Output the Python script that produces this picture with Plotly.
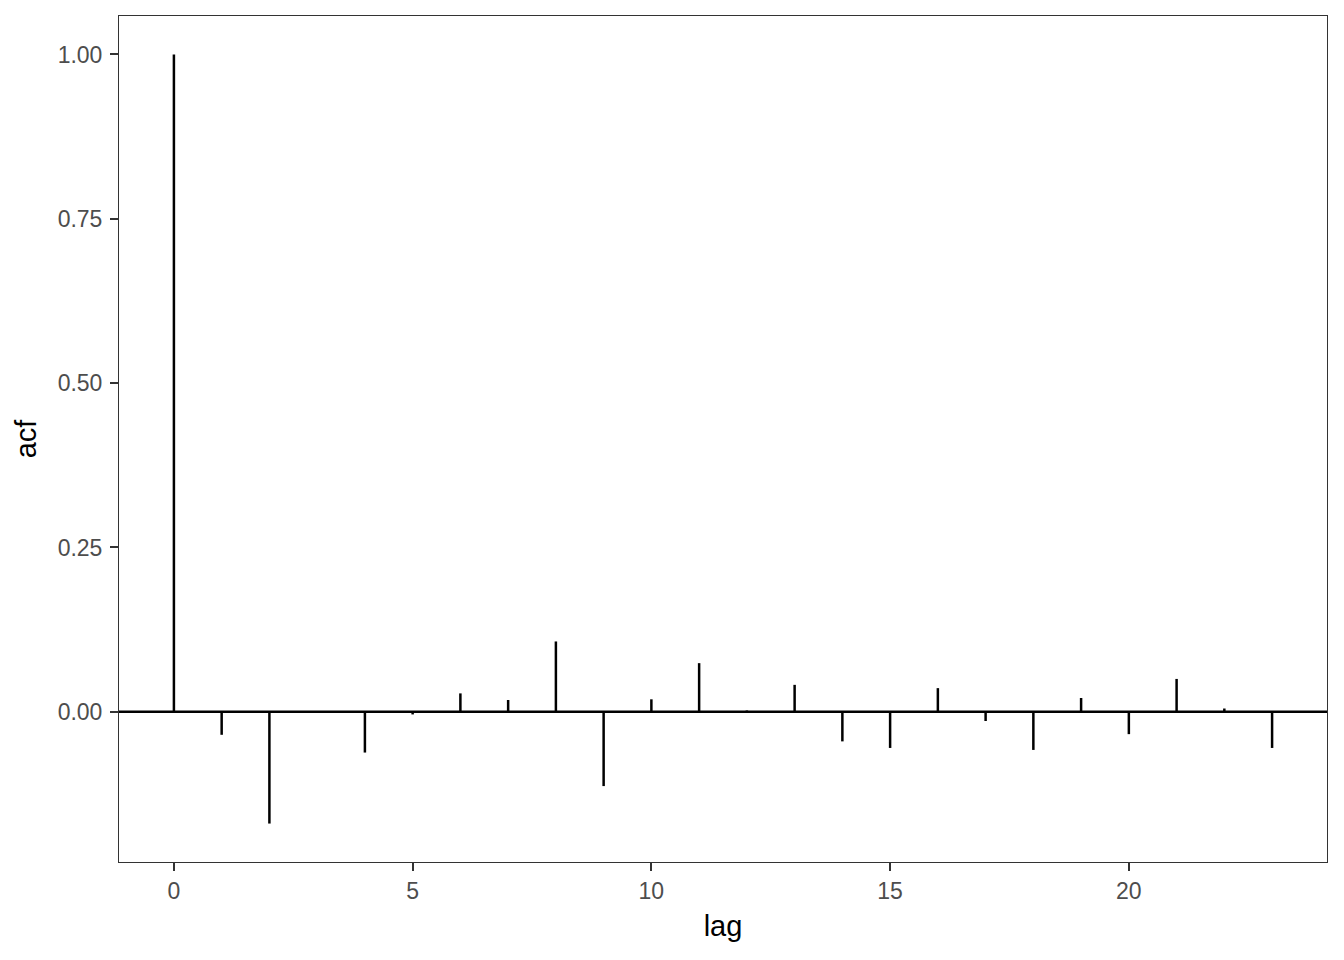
import plotly.graph_objects as go

# ACF values
lags = list(range(24))
acf = [1.0, -0.035, -0.170, 0.001, -0.062, -0.004, 0.028, 0.018, 0.107, -0.113,
       0.019, 0.074, 0.002, 0.041, -0.045, -0.055, 0.036, -0.014, -0.058, 0.021,
       -0.034, 0.050, 0.005, -0.055]

x_ticks = [0, 5, 10, 15, 20]
y_ticks = [0.0, 0.25, 0.5, 0.75, 1.0]
y_tick_text = ["0.00", "0.25", "0.50", "0.75", "1.00"]

FONT = "Liberation Sans, Arial, sans-serif"
BORDER = "#333333"
TICK_TXT = "#4d4d4d"

# segments from 0 to acf for each lag
seg_x, seg_y = [], []
for lag, val in zip(lags, acf):
    seg_x += [lag, lag, None]
    seg_y += [0, val, None]

fig = go.Figure()
fig.add_trace(go.Scatter(
    x=seg_x, y=seg_y, mode="lines",
    line=dict(color="black", width=2.5),
    showlegend=False, hoverinfo="skip",
))

fig.add_hline(y=0, line_color="black", line_width=2.5)

axis_common = dict(
    showgrid=False, zeroline=False,
    showline=True, linecolor=BORDER, linewidth=1, mirror=True,
    ticks="outside", ticklen=8, tickwidth=1.5, tickcolor=BORDER,
    tickfont=dict(size=23, color=TICK_TXT, family=FONT),
)

fig.update_xaxes(
    range=[-1.15, 24.15], tickvals=x_ticks,
    title=dict(text="lag", font=dict(size=29, color="black", family=FONT), standoff=13),
    **axis_common,
)
fig.update_yaxes(
    range=[-0.2285, 1.0585], tickvals=y_ticks, ticktext=y_tick_text,
    ticklabelstandoff=3,
    title=dict(text="acf", font=dict(size=29, color="black", family=FONT), standoff=12),
    **axis_common,
)

# page body adds 8px on each side, so the figure is 16px smaller than the window
fig.update_layout(
    width=1328, height=944,
    paper_bgcolor="white", plot_bgcolor="white",
    margin=dict(l=111, r=9, t=8, b=90),
    font=dict(family=FONT),
)

fig.write_html("out.html")
